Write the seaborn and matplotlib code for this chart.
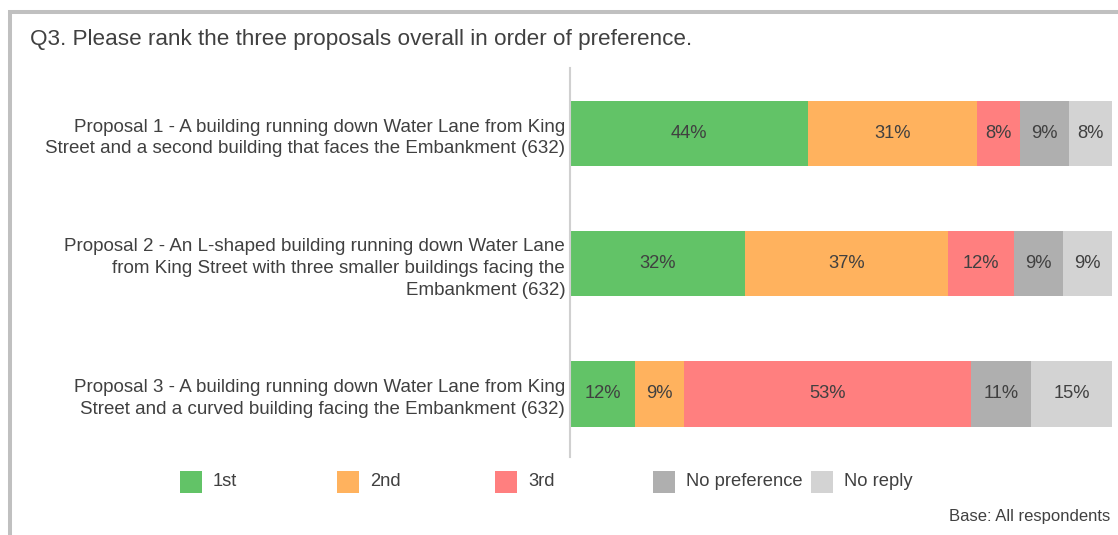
import matplotlib
matplotlib.use("Agg")
import numpy as np
import pandas as pd
import matplotlib.pyplot as plt
import seaborn as sns
from matplotlib.patches import Rectangle

# Data (percent of respondents)
proposals = [
    "Proposal 1 - A building running down Water Lane from King\nStreet and a second building that faces the Embankment (632)",
    "Proposal 2 - An L-shaped building running down Water Lane\nfrom King Street with three smaller buildings facing the\nEmbankment (632)",
    "Proposal 3 - A building running down Water Lane from King\nStreet and a curved building facing the Embankment (632)",
]
ranks = ["1st", "2nd", "3rd", "No preference", "No reply"]
first = [43.9, 32.3, 12.0]
second = [31.2, 37.4, 9.0]
third = [7.9, 12.2, 53.0]
no_pref = [9.0, 9.0, 11.1]
no_reply = [8.0, 9.1, 14.9]
colors = ["#62c367", "#ffb25e", "#ff7f7f", "#afafaf", "#d3d3d3"]

df = pd.DataFrame({"proposal": proposals, "1st": first, "2nd": second,
                   "3rd": third, "No preference": no_pref, "No reply": no_reply})
cum = df[ranks].cumsum(axis=1)

sns.set_style("white")
plt.rcParams["font.family"] = ["Liberation Sans", "DejaVu Sans"]
text_color = "#404040"

W, H = 1118, 535
fig = plt.figure(figsize=(W / 100, H / 100), dpi=100)
ax = fig.add_axes([570 / W, 1 - 457 / H, 542 / W, 389 / H])

# stacked bars: draw cumulative totals from the last segment back to the first
for rank, col in zip(ranks[::-1], colors[::-1]):
    sns.barplot(x=cum[rank], y=df["proposal"], orient="h", color=col,
                width=0.5, saturation=1, ax=ax, linewidth=0)

# segment labels
for i in range(len(df)):
    left = 0
    for rank in ranks:
        v = df.loc[i, rank]
        ax.text(left + v / 2, i, f"{round(v)}%", ha="center", va="center",
                fontsize=13.2, color=text_color)
        left += v

ax.set_xlim(0, 100)
ax.set_ylim(2.484, -0.503)
ax.set_xlabel("")
ax.set_ylabel("")
ax.set_xticks([])
ax.tick_params(axis="y", length=0, pad=3.5, labelsize=13.5, labelcolor=text_color)
for lab in ax.get_yticklabels():
    lab.set_multialignment("right")
    lab.set_linespacing(1.38)
for s in ["top", "right", "bottom"]:
    ax.spines[s].set_visible(False)
ax.spines["left"].set_color("#d0d0d0")
ax.spines["left"].set_linewidth(1.5)

# title
fig.text(30 / W, 1 - 40 / H, "Q3. Please rank the three proposals overall in order of preference.",
         fontsize=16.2, color=text_color, va="center", ha="left")

# legend drawn as fixed-width columns
leg_x = [180, 337, 495, 653, 811]
for x, rank, col in zip(leg_x, ranks, colors):
    fig.add_artist(Rectangle((x / W, 1 - 493 / H), 22 / W, 22 / H,
                             transform=fig.transFigure, color=col, lw=0))
    fig.text((x + 33) / W, 1 - 482 / H, rank, fontsize=13.2, color=text_color,
             va="center", ha="left")

fig.text(1110 / W, 1 - 516 / H, "Base: All respondents", fontsize=12,
         color=text_color, va="center", ha="right")

# outer frame (clipped at right and bottom)
fig.add_artist(Rectangle((10 / W, -0.2), 1.5, 1.2 - 12 / H, transform=fig.transFigure,
                         fill=False, edgecolor="#c0c0c0", lw=2.9))

fig.savefig("out.png", dpi=100)
